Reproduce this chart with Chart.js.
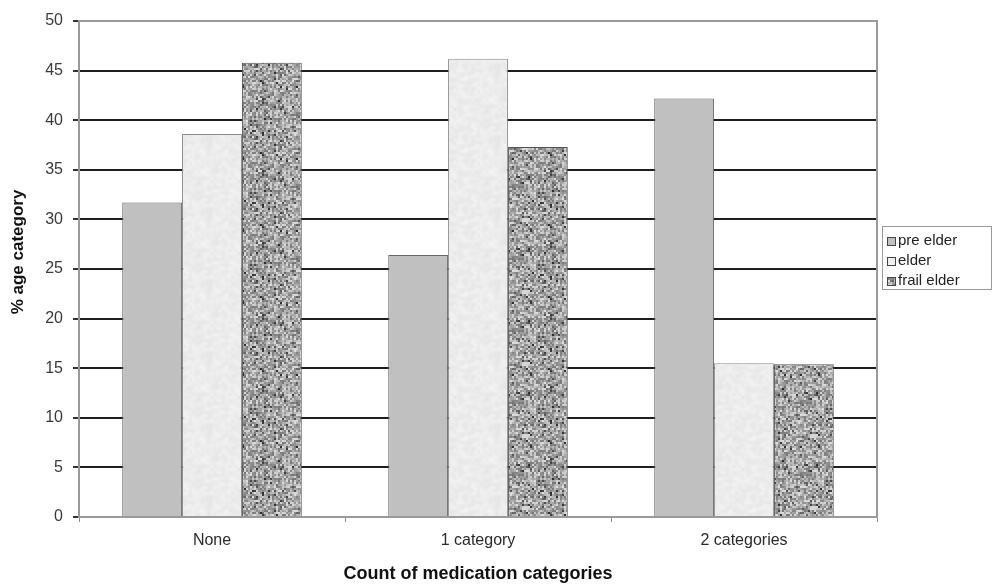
<!DOCTYPE html>
<html>
<head>
<meta charset="utf-8">
<script src="https://cdn.jsdelivr.net/npm/chart.js@4/dist/chart.umd.min.js"></script>
<style>
  html, body { margin: 0; padding: 0; background: #ffffff; }
  #wrap { width: 993px; height: 585px; }
</style>
</head>
<body>
<div id="wrap"><canvas id="chart" width="993" height="585"></canvas></div>
<script>
// Share of each age group by number of medication categories
const categories = ['None', '1 category', '2 categories'];
const seriesNames = ['pre elder', 'elder', 'frail elder'];
const preElder   = [31.7, 26.4, 42.2];
const elder      = [38.6, 46.2, 15.5];
const frailElder = [45.8, 37.3, 15.4];
const yMin = 0, yMax = 50, yStep = 5;

const FONT = '"Liberation Sans", Arial, Helvetica, sans-serif';

// deterministic hash used for the fill textures
function hash(x, y, s) {
  let h = (x * 374761393 + y * 668265263 + s * 2246822519) >>> 0;
  h = ((h ^ (h >>> 13)) * 1274126177) >>> 0;
  return ((h ^ (h >>> 16)) >>> 0) / 4294967295;
}

// build a seamless speckled texture tile
function texture(base, spread, dark, seed, cell, blur) {
  const size = 72;
  const raw = document.createElement('canvas');
  raw.width = raw.height = size;
  const c = raw.getContext('2d');
  for (let y = 0; y < size; y += cell) {
    for (let x = 0; x < size; x += cell) {
      let v = base + (hash(x, y, seed) - 0.5) * spread;
      if (hash(x + 7, y + 3, seed + 11) < dark) v -= spread * 0.7;
      v = Math.max(0, Math.min(255, Math.round(v)));
      c.fillStyle = `rgb(${v},${v},${v})`;
      c.fillRect(x, y, cell, cell);
    }
  }
  // lay out 3x3 copies, then blur once so the seams wrap cleanly
  const big = document.createElement('canvas');
  big.width = big.height = size * 3;
  const b = big.getContext('2d');
  for (let i = 0; i < 3; i++) for (let j = 0; j < 3; j++) b.drawImage(raw, i * size, j * size);
  const tile = document.createElement('canvas');
  tile.width = tile.height = size;
  const t = tile.getContext('2d');
  t.filter = `blur(${blur}px)`;
  t.drawImage(big, -size, -size);
  return t.createPattern(tile, 'repeat');
}

const fills = [
  '#c0c0c0',
  texture(236, 14, 0.0, 3, 3, 0.8),
  texture(170, 105, 0.10, 7, 2, 0.6)
];
const borders = ['#666666', '#8a8a8a', '#555555'];
const seriesValues = [preElder, elder, frailElder];

// plot frame on the top and right sides
const framePlugin = {
  id: 'frame',
  beforeDatasetsDraw(chart) {
    const { ctx, chartArea: a } = chart;
    ctx.save();
    ctx.strokeStyle = '#9a9a9a';
    ctx.lineWidth = 2;
    ctx.beginPath();
    ctx.moveTo(a.left, a.top);
    ctx.lineTo(a.right, a.top);
    ctx.lineTo(a.right, a.bottom);
    ctx.stroke();
    ctx.restore();
  }
};

// boxed legend at the right, plus the vertical axis title
const legendPlugin = {
  id: 'boxLegend',
  afterDraw(chart) {
    const { ctx } = chart;
    ctx.save();
    const bx = 882, by = 226, bw = 109, bh = 63;
    ctx.strokeStyle = '#9a9a9a';
    ctx.lineWidth = 1;
    ctx.strokeRect(bx + 0.5, by + 0.5, bw, bh);
    ctx.font = '15px ' + FONT;
    ctx.textBaseline = 'middle';
    chart.data.datasets.forEach((ds, i) => {
      const cy = by + 15 + i * 20;
      ctx.fillStyle = ds.backgroundColor;
      ctx.fillRect(887, cy - 4, 8, 8);
      ctx.strokeStyle = '#444';
      ctx.strokeRect(887.5, cy - 3.5, 8, 8);
      ctx.fillStyle = '#222';
      ctx.fillText(ds.label, 898, cy);
    });

    ctx.translate(18, 252);
    ctx.rotate(-Math.PI / 2);
    ctx.font = 'bold 17px ' + FONT;
    ctx.textAlign = 'center';
    ctx.textBaseline = 'middle';
    ctx.fillStyle = '#111';
    ctx.fillText('% age category', 0, 0);
    ctx.restore();
  }
};

new Chart(document.getElementById('chart'), {
  type: 'bar',
  data: {
    labels: categories,
    datasets: seriesNames.map((name, i) => ({
      label: name,
      data: seriesValues[i],
      backgroundColor: fills[i],
      borderColor: borders[i],
      borderWidth: 1,
      barPercentage: 1.0,
      categoryPercentage: 0.675
    }))
  },
  options: {
    responsive: false,
    animation: false,
    devicePixelRatio: 1,
    layout: { padding: { top: 21, right: 116, left: 0, bottom: 0 } },
    plugins: { legend: { display: false }, tooltip: { enabled: false } },
    font: { family: FONT },
    scales: {
      x: {
        afterFit(scale) { scale.height = 68; },
        grid: {
          offset: true,
          drawOnChartArea: false,
          drawTicks: true,
          tickLength: 5,
          color: '#8a8a8a',
          lineWidth: 1
        },
        border: { color: '#9a9a9a', width: 2 },
        ticks: {
          padding: 9,
          color: '#2a2a2a',
          font: { family: FONT, size: 16 }
        },
        title: {
          display: true,
          text: 'Count of medication categories',
          color: '#111',
          font: { family: FONT, size: 18, weight: 'bold' },
          padding: { top: 0, bottom: 0 }
        }
      },
      y: {
        min: yMin,
        max: yMax,
        afterFit(scale) { scale.width = 79; },
        ticks: {
          stepSize: yStep,
          padding: 10,
          color: '#3a3a3a',
          font: { family: FONT, size: 16 }
        },
        grid: {
          color: (c) => (c.tick && (c.tick.value === yMax || c.tick.value === yMin)) ? '#9a9a9a' : '#1e1e1e',
          tickColor: '#333',
          lineWidth: 2,
          tickLength: 6
        },
        border: { color: '#9a9a9a', width: 2 }
      }
    }
  },
  plugins: [framePlugin, legendPlugin]
});
</script>
</body>
</html>
